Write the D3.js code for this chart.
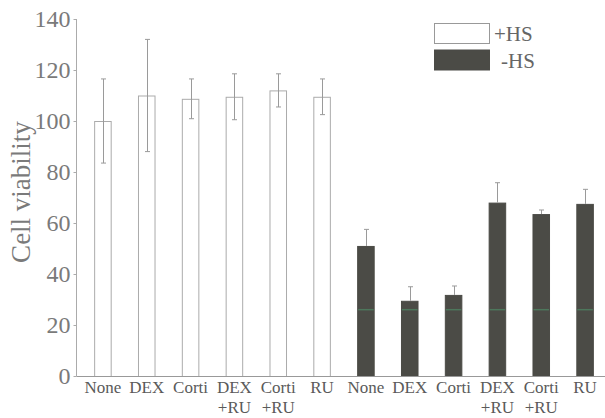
<!DOCTYPE html>
<html>
<head>
<meta charset="utf-8">
<script src="https://cdn.jsdelivr.net/npm/d3@7"></script>
<style>
  html, body { margin: 0; padding: 0; background: #fff; }
  svg { display: block; }
</style>
</head>
<body>
<svg id="chart" width="605" height="418"></svg>
<script>
// ---- data ----
const labelsTop = ["None", "DEX", "Corti", "DEX", "Corti", "RU", "None", "DEX", "Corti", "DEX", "Corti", "RU"];
const labelsBottom = ["", "", "", "+RU", "+RU", "", "", "", "", "+RU", "+RU", ""];
const groups = ["+HS", "+HS", "+HS", "+HS", "+HS", "+HS", "-HS", "-HS", "-HS", "-HS", "-HS", "-HS"];
const values = [100, 110, 108.7, 109.5, 112, 109.5, 51, 29.5, 31.8, 68, 63.5, 67.5];
const errors = [16.5, 22, 7.8, 9, 6.5, 7, 6.5, 5.5, 3.5, 7.8, 1.6, 5.7];
const yTicks = [0, 20, 40, 60, 80, 100, 120, 140];
const legendKeys = ["+HS", "-HS"];
const yLabel = "Cell viability";

// ---- layout ----
const FONT = '"Liberation Serif", "Times New Roman", Times, "DejaVu Serif", serif';
const svg = d3.select("#chart");
const idx = d3.range(values.length);
const x = d3.scaleBand().domain(idx).range([81, 607]).paddingInner(0.6).paddingOuter(0.3);
const y = d3.scaleLinear().domain([0, 140]).range([376, 19]);
const fill = d3.scaleOrdinal().domain(legendKeys).range(["#ffffff", "#4b4b46"]);
const stroke = d3.scaleOrdinal().domain(legendKeys).range(["#ababab", "#4b4b46"]);
const axisColor = "#ababab";

// bars
svg.append("g").selectAll("rect").data(idx).join("rect")
  .attr("x", i => x(i) + 0.5)
  .attr("y", i => y(values[i]) + 0.5)
  .attr("width", x.bandwidth() - 1)
  .attr("height", i => y(0) - y(values[i]))
  .attr("fill", i => fill(groups[i]))
  .attr("stroke", i => stroke(groups[i]))
  .attr("stroke-width", 1);

// faint scan artefact stripe in dark bars
svg.append("g").selectAll("line").data(idx.filter(i => groups[i] === "-HS")).join("line")
  .attr("x1", i => x(i) + 1).attr("x2", i => x(i) + x.bandwidth() - 1)
  .attr("y1", y(26)).attr("y2", y(26))
  .attr("stroke", "#4f8a66").attr("stroke-width", 1.5).attr("opacity", 0.7);

// error bars
const eb = svg.append("g").attr("stroke", "#9a9a9a").attr("stroke-width", 1);
idx.forEach(i => {
  const cx = Math.round(x(i) + x.bandwidth() / 2) + 0.5;
  const lo = groups[i] === "+HS" ? values[i] - errors[i] : values[i];
  const hi = values[i] + errors[i];
  eb.append("line").attr("x1", cx).attr("x2", cx).attr("y1", y(lo)).attr("y2", y(hi));
  eb.append("line").attr("x1", cx - 2.5).attr("x2", cx + 2.5).attr("y1", y(hi)).attr("y2", y(hi));
  if (groups[i] === "+HS") {
    eb.append("line").attr("x1", cx - 2.5).attr("x2", cx + 2.5).attr("y1", y(lo)).attr("y2", y(lo));
  }
});

// y axis
const yAxis = svg.append("g").attr("transform", "translate(76.5,0)")
  .call(d3.axisLeft(y).tickValues(yTicks).tickSize(3).tickPadding(3));
yAxis.attr("font-family", FONT);
yAxis.select(".domain").attr("stroke", axisColor).attr("d", `M0,${y(140)}V${y(0)}`);
yAxis.selectAll(".tick line").attr("stroke", axisColor);
yAxis.selectAll(".tick text")
  .attr("fill", "#7a7a7a").attr("font-size", 24).style("font-family", FONT);

// x axis line
svg.append("line").attr("x1", 76.5).attr("x2", 605).attr("y1", y(0) + 0.5).attr("y2", y(0) + 0.5)
  .attr("stroke", "#999").attr("stroke-width", 1.2);

// x labels
const xl = svg.append("g").attr("fill", "#5a5a5a").attr("font-size", 17).attr("text-anchor", "middle");
xl.selectAll("text.top").data(idx).join("text").attr("class", "top")
  .attr("x", i => x(i) + x.bandwidth() / 2).attr("y", 393).style("font-family", FONT).text(i => labelsTop[i]);
xl.selectAll("text.bot").data(idx.filter(i => labelsBottom[i])).join("text").attr("class", "bot")
  .attr("x", i => x(i) + x.bandwidth() / 2).attr("y", 413).style("font-family", FONT).text(i => labelsBottom[i]);

// y label
svg.append("text").attr("transform", "translate(30,192) rotate(-90)")
  .attr("text-anchor", "middle").attr("fill", "#7a7a7a").attr("font-size", 27)
  .style("font-family", FONT).text(yLabel);

// legend
const lg = svg.append("g");
legendKeys.forEach((k, j) => {
  const ly = j === 0 ? 23 : 49.5;
  lg.append("rect").attr("x", 434.5).attr("y", ly + 0.5).attr("width", 55).attr("height", 20)
    .attr("fill", fill(k)).attr("stroke", j === 0 ? "#999" : fill(k));
  lg.append("text").attr("x", j === 0 ? 494 : 501).attr("y", ly + 18)
    .attr("fill", "#666").attr("font-size", 21).style("font-family", FONT).text(k);
});
</script>
</body>
</html>
